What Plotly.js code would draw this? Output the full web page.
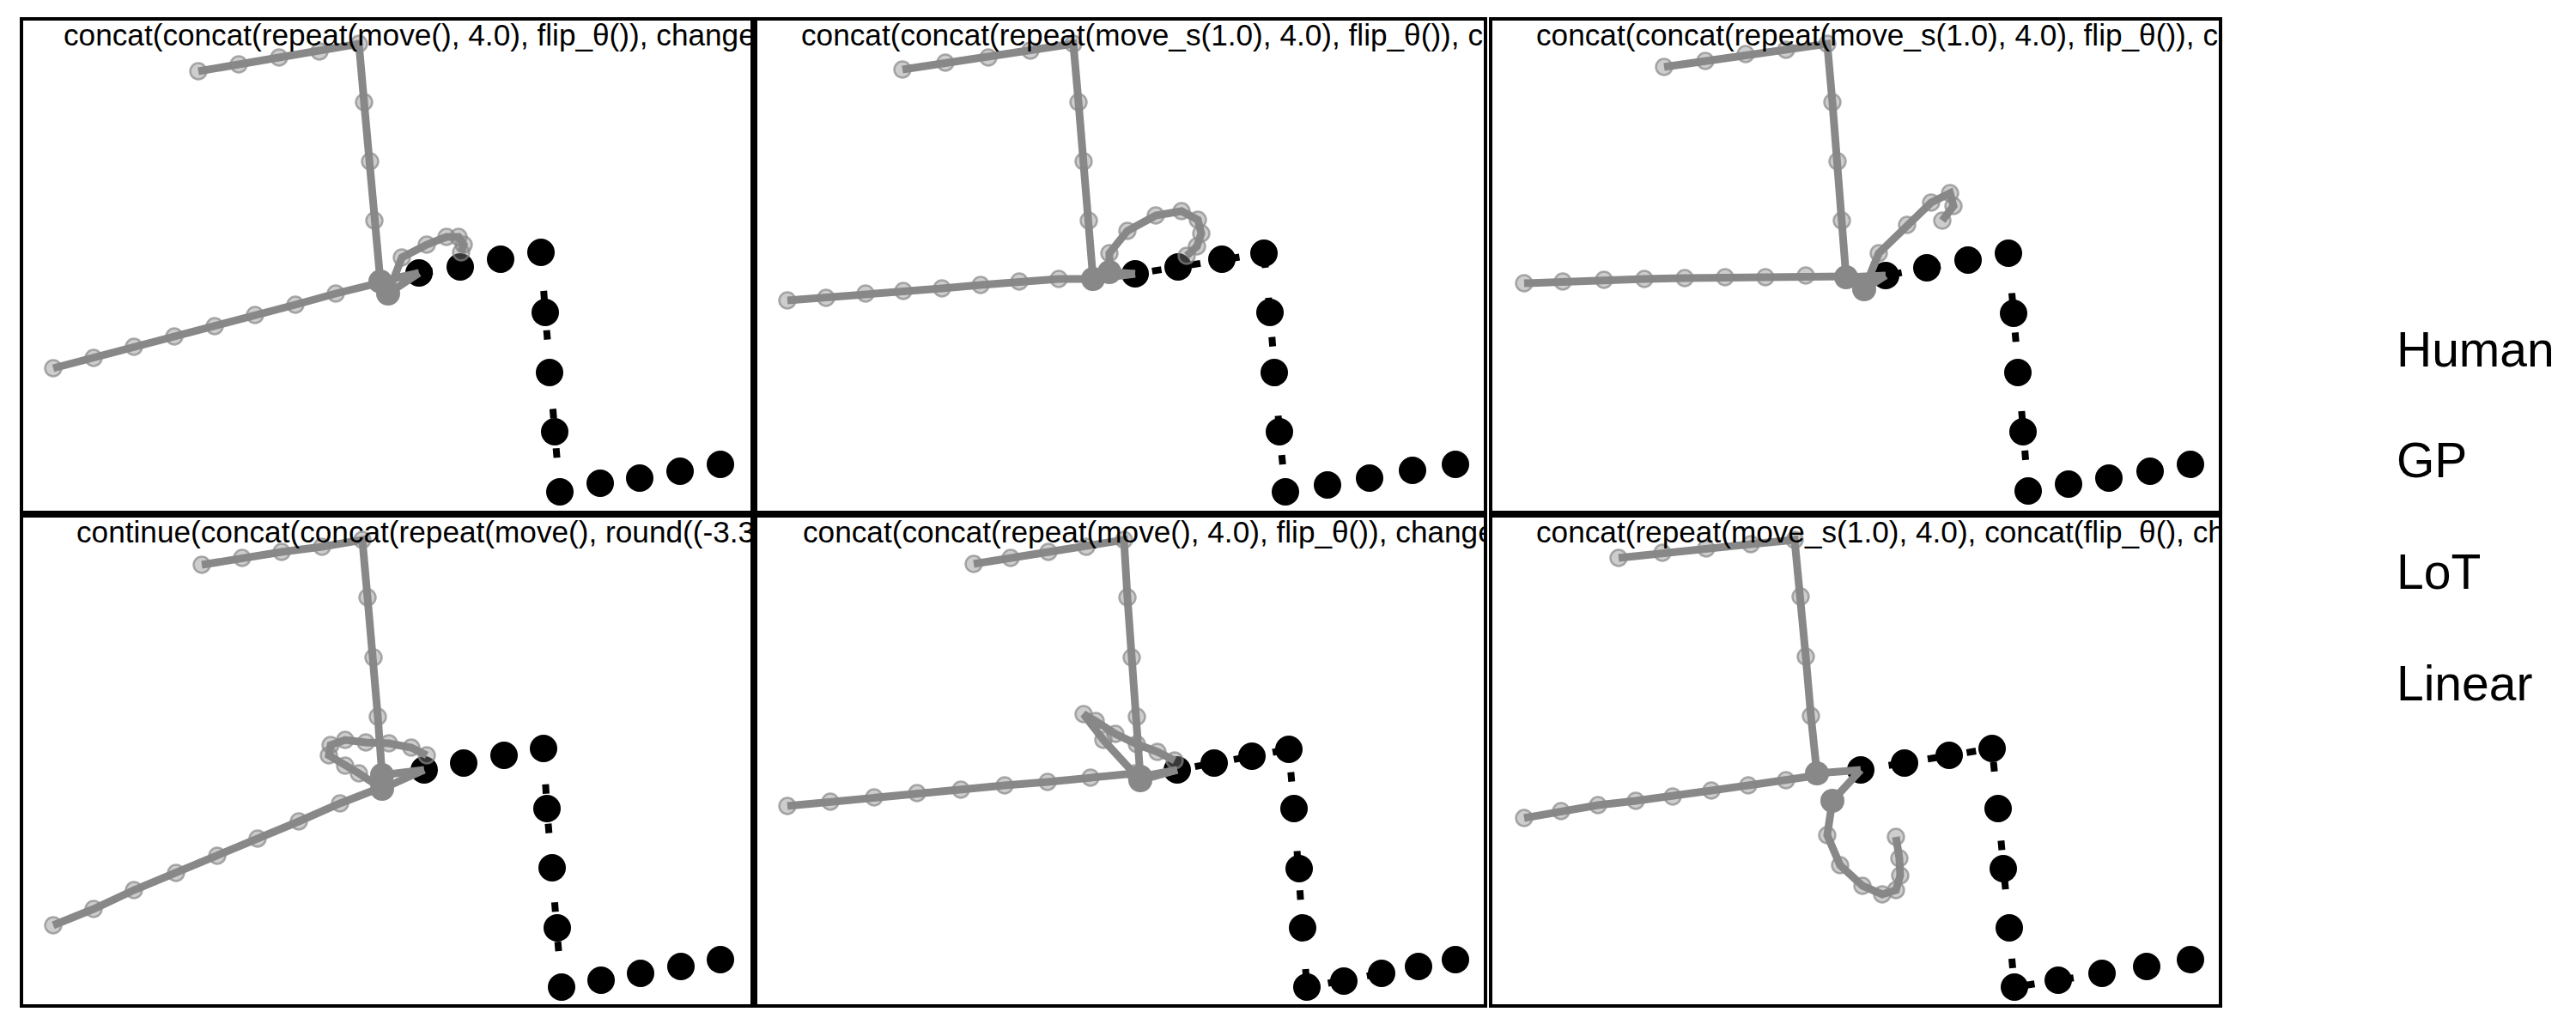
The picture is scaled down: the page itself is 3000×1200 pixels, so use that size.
<!DOCTYPE html>
<html>
<head>
<meta charset="utf-8">
<script src="https://cdn.plot.ly/plotly-3.0.1.min.js"></script>
<style>html,body{margin:0;padding:0;background:#fff;}</style>
</head>
<body>
<div id="chart" style="width:3000px;height:1200px;"></div>
<script>
// ---------------- DATA (local panel units, y up) ----------------
const titles = [
  "concat(concat(repeat(move(), 4.0), flip_θ()), change",
  "concat(concat(repeat(move_s(1.0), 4.0), flip_θ()), c",
  "concat(concat(repeat(move_s(1.0), 4.0), flip_θ()), c",
  "continue(concat(concat(repeat(move(), round((-3.3",
  "concat(concat(repeat(move(), 4.0), flip_θ()), change",
  "concat(repeat(move_s(1.0), 4.0), concat(flip_θ(), ch"
];
const legendLabels = ["Human", "GP", "LoT", "Linear"];

// Panel 1
const p1_hist_x = [204, 251, 298, 345, 391, 397, 404, 409, 416];
const p1_hist_y = [512, 520, 528, 535, 544, 476, 407, 338, 267];
const p1_back_x = [35, 82, 129, 176, 223, 270, 317, 364, 413];
const p1_back_y = [166, 178, 191, 203, 215, 228, 240, 253, 265];
const p1_curl_x = [425, 441, 470, 493, 507, 513, 510];
const p1_curl_y = [253, 295, 310, 319, 319, 310, 301];
const p1_human_x = [461, 509, 556, 603, 608, 613, 619, 625, 672, 718, 765, 812];
const p1_human_y = [277, 284, 293, 301, 231, 161, 92, 22, 32, 38, 46, 54];

// Panel 2
const p2_hist_x = [169, 219, 269, 318, 368, 374, 380, 386, 391];
const p2_hist_y = [514, 522, 528, 536, 544, 476, 407, 338, 270];
const p2_back_x = [35, 80, 126, 170, 215, 260, 305, 351, 391];
const p2_back_y = [245, 248, 253, 256, 259, 263, 267, 270, 270];
const p2_curl_x = [410, 410, 431, 464, 494, 513, 517, 512, 500];
const p2_curl_y = [278, 300, 326, 344, 349, 339, 323, 308, 297];
const p2_human_x = [440, 490, 541, 590, 597, 602, 608, 615, 664, 713, 763, 813];
const p2_human_y = [276, 284, 293, 300, 231, 161, 92, 22, 30, 38, 47, 54];

// Panel 3
const p3_hist_x = [200, 248, 295, 342, 390, 396, 402, 407, 412];
const p3_hist_y = [517, 524, 532, 537, 544, 476, 407, 338, 272];
const p3_back_x = [37, 82, 130, 177, 224, 271, 318, 365, 412];
const p3_back_y = [265, 267, 269, 270, 271, 272, 272, 274, 273];
const p3_curl_x = [433, 450, 483, 511, 533, 537, 524];
const p3_curl_y = [258, 300, 333, 359, 370, 355, 338];
const p3_human_x = [458, 506, 554, 601, 607, 612, 618, 624, 671, 718, 766, 813];
const p3_human_y = [274, 283, 292, 300, 230, 161, 92, 23, 31, 38, 46, 54];

// Panel 4
const p4_hist_x = [208, 255, 301, 348, 395, 401, 408, 413, 418];
const p4_hist_y = [512, 520, 527, 533, 541, 474, 404, 335, 267];
const p4_back_x = [35, 82, 129, 178, 226, 273, 321, 369, 418];
const p4_back_y = [92, 111, 133, 153, 173, 193, 213, 234, 253];
const p4_curl_x = [418, 391, 375, 356, 358, 375, 399, 426, 452, 470];
const p4_curl_y = [251, 269, 278, 290, 302, 308, 305, 304, 299, 290];
const p4_human_x = [467, 513, 560, 606, 610, 616, 622, 627, 673, 719, 766, 812];
const p4_human_y = [273, 281, 290, 298, 228, 159, 89, 20, 28, 36, 44, 52];

// Panel 5
const p5_hist_x = [252, 295, 339, 383, 427, 431, 436, 442, 446];
const p5_hist_y = [513, 520, 527, 533, 541, 474, 404, 335, 265];
const p5_back_x = [35, 85, 136, 186, 237, 288, 338, 388, 440];
const p5_back_y = [231, 236, 241, 246, 250, 255, 259, 264, 269];
const p5_curl_x = [446, 403, 380, 394, 417, 442, 466, 486];
const p5_curl_y = [261, 308, 338, 330, 315, 303, 294, 284];
const p5_human_x = [489, 532, 576, 619, 625, 631, 635, 640, 683, 727, 770, 813];
const p5_human_y = [273, 281, 289, 297, 228, 158, 89, 20, 27, 36, 44, 52];

// Panel 6
const p6_hist_x = [147, 198, 249, 301, 352, 359, 365, 371, 378];
const p6_hist_y = [520, 526, 531, 536, 541, 475, 405, 336, 269];
const p6_back_x = [37, 80, 123, 167, 210, 255, 298, 342, 381];
const p6_back_y = [217, 225, 232, 237, 242, 249, 255, 261, 267];
const p6_curl_x = [396, 390, 405, 431, 454, 470, 475, 474, 470];
const p6_curl_y = [237, 197, 162, 138, 128, 133, 150, 170, 195];
const p6_human_x = [429, 480, 532, 582, 589, 595, 602, 608, 659, 710, 762, 813];
const p6_human_y = [273, 281, 290, 298, 228, 158, 89, 20, 28, 36, 44, 52];

// ---------------- LAYOUT / STYLE ----------------
const FIG_W = 3000, FIG_H = 1200;
const colL = [27, 882, 1738], colR = [874, 1728, 2584];
const rowT = [24, 603], rowB = [595, 1170];
const titleOffset = [47, 51, 51, 62, 53, 51];
const dashPhase = [5, 20, 8, 45, 21, 33];   // dotted-line phase per panel (px)
const DASH_ON = 11, DASH_PERIOD = 46;
const GRAY = '#888888';
const FONT = 'Liberation Sans, Arial, Helvetica, sans-serif';

function dashFor(p) {
  if (p + DASH_ON <= DASH_PERIOD) {
    return [0, p, DASH_ON, DASH_PERIOD - DASH_ON - p].map(v => v + 'px').join(',');
  }
  const head = p + DASH_ON - DASH_PERIOD;
  return [head, DASH_PERIOD - DASH_ON, DASH_PERIOD - p, 0].map(v => v + 'px').join(',');
}

const panels = [
  {hx:p1_hist_x, hy:p1_hist_y, bx:p1_back_x, by:p1_back_y, cx:p1_curl_x, cy:p1_curl_y, ux:p1_human_x, uy:p1_human_y},
  {hx:p2_hist_x, hy:p2_hist_y, bx:p2_back_x, by:p2_back_y, cx:p2_curl_x, cy:p2_curl_y, ux:p2_human_x, uy:p2_human_y},
  {hx:p3_hist_x, hy:p3_hist_y, bx:p3_back_x, by:p3_back_y, cx:p3_curl_x, cy:p3_curl_y, ux:p3_human_x, uy:p3_human_y},
  {hx:p4_hist_x, hy:p4_hist_y, bx:p4_back_x, by:p4_back_y, cx:p4_curl_x, cy:p4_curl_y, ux:p4_human_x, uy:p4_human_y},
  {hx:p5_hist_x, hy:p5_hist_y, bx:p5_back_x, by:p5_back_y, cx:p5_curl_x, cy:p5_curl_y, ux:p5_human_x, uy:p5_human_y},
  {hx:p6_hist_x, hy:p6_hist_y, bx:p6_back_x, by:p6_back_y, cx:p6_curl_x, cy:p6_curl_y, ux:p6_human_x, uy:p6_human_y}
];

const traces = [];
const layout = {
  width: FIG_W, height: FIG_H,
  margin: {l:0, r:0, t:0, b:0, pad:0},
  paper_bgcolor: 'white', plot_bgcolor: 'white',
  showlegend: false,
  annotations: []
};

panels.forEach((d, k) => {
  const col = k % 3, row = Math.floor(k / 3);
  const n = k === 0 ? '' : String(k + 1);
  const xa = 'x' + n, ya = 'y' + n;
  const w = colR[col] - colL[col], h = rowB[row] - rowT[row];
  const axBase = {showline:true, mirror:true, linecolor:'black', linewidth:4,
    showgrid:false, zeroline:false, showticklabels:false, ticks:'', fixedrange:true};
  layout['xaxis' + n] = Object.assign({}, axBase, {
    domain:[colL[col]/FIG_W, colR[col]/FIG_W], range:[0, w], anchor: ya});
  layout['yaxis' + n] = Object.assign({}, axBase, {
    domain:[1 - rowB[row]/FIG_H, 1 - rowT[row]/FIG_H], range:[0, h], anchor: xa});

  const bX = d.ux[0], bY = d.uy[0];

  // Human trajectory: black dotted line with big black dots
  traces.push({type:'scatter', mode:'lines+markers', x:d.ux, y:d.uy, xaxis:xa, yaxis:ya,
    line:{color:'black', width:8, dash:dashFor(dashPhase[k])},
    marker:{color:'black', size:32}, hoverinfo:'skip'});

  // Gray paths
  const gx = [...d.hx, bX, null, ...d.bx, null, bX, ...d.cx];
  const gy = [...d.hy, bY, null, ...d.by, null, bY, ...d.cy];
  traces.push({type:'scatter', mode:'lines', x:gx, y:gy, xaxis:xa, yaxis:ya,
    connectgaps:false, line:{color:GRAY, width:9}, hoverinfo:'skip'});

  // Light translucent markers on gray points
  traces.push({type:'scatter', mode:'markers', x:[...d.hx, ...d.bx, ...d.cx], y:[...d.hy, ...d.by, ...d.cy],
    xaxis:xa, yaxis:ya,
    marker:{size:19, color:'rgba(136,136,136,0.42)', line:{color:'rgba(136,136,136,0.7)', width:2.5}},
    hoverinfo:'skip'});

  // Large gray points: end of history and start of the curl
  traces.push({type:'scatter', mode:'markers',
    x:[d.hx[d.hx.length-1], d.cx[0]], y:[d.hy[d.hy.length-1], d.cy[0]],
    xaxis:xa, yaxis:ya, marker:{size:28, color:GRAY}, hoverinfo:'skip'});

  // Panel title (clipped by the plot area)
  traces.push({type:'scatter', mode:'text', x:[titleOffset[k]], y:[h - 20], text:[titles[k]],
    textposition:'middle right', cliponaxis:true, xaxis:xa, yaxis:ya,
    textfont:{family:FONT, size:35.2, color:'black'}, hoverinfo:'skip'});
});

// Legend labels (text only)
const legendY = [407, 536, 666, 796];
legendLabels.forEach((lab, i) => {
  layout.annotations.push({text: lab, xref:'paper', yref:'paper', x: 2789/FIG_W, y: 1 - legendY[i]/FIG_H,
    xanchor:'left', yanchor:'middle', showarrow:false,
    font:{family:FONT, size:57, color:'black'}});
});

Plotly.newPlot('chart', traces, layout, {staticPlot:true, displayModeBar:false});
</script>
</body>
</html>
